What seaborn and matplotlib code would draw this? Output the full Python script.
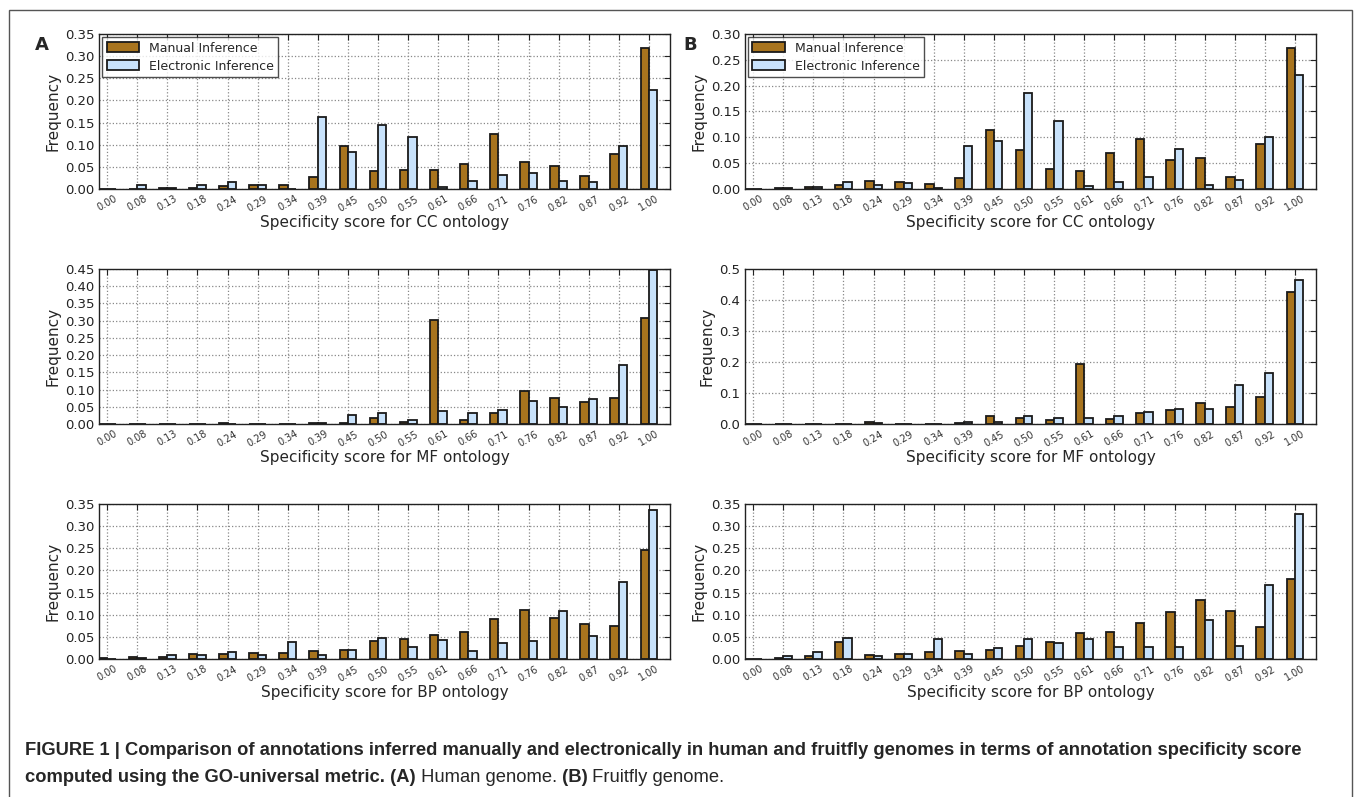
import pandas as pd
import numpy as np
import seaborn as sns
import matplotlib.pyplot as plt
from matplotlib.patches import Rectangle

# 数据: 每个面板的频率
scores = ["0.00", "0.08", "0.13", "0.18", "0.24", "0.29", "0.34", "0.39", "0.45", "0.50",
          "0.55", "0.61", "0.66", "0.71", "0.76", "0.82", "0.87", "0.92", "1.00"]
series_names = ["Manual Inference", "Electronic Inference"]

human_cc_manual = [0.0, 0.0, 0.002, 0.003, 0.006, 0.008, 0.008, 0.027, 0.096, 0.041,
                   0.043, 0.043, 0.056, 0.124, 0.060, 0.052, 0.029, 0.080, 0.319]
human_cc_elec = [0.0, 0.009, 0.003, 0.010, 0.015, 0.009, 0.001, 0.163, 0.084, 0.144,
                 0.117, 0.004, 0.017, 0.031, 0.037, 0.019, 0.015, 0.098, 0.224]
fly_cc_manual = [0.0, 0.002, 0.003, 0.007, 0.015, 0.014, 0.009, 0.021, 0.115, 0.076,
                 0.039, 0.035, 0.070, 0.097, 0.057, 0.060, 0.023, 0.088, 0.272]
fly_cc_elec = [0.0, 0.002, 0.003, 0.014, 0.007, 0.012, 0.002, 0.083, 0.093, 0.185,
               0.131, 0.005, 0.014, 0.023, 0.077, 0.007, 0.018, 0.100, 0.221]

human_mf_manual = [0.0, 0.0, 0.0, 0.0, 0.002, 0.0, 0.0, 0.002, 0.004, 0.018,
                   0.005, 0.303, 0.012, 0.031, 0.097, 0.076, 0.065, 0.076, 0.308]
human_mf_elec = [0.0, 0.0, 0.0, 0.0, 0.0, 0.0, 0.0, 0.004, 0.026, 0.031,
                 0.013, 0.039, 0.031, 0.042, 0.068, 0.050, 0.073, 0.172, 0.447]
fly_mf_manual = [0.0, 0.0, 0.0, 0.0, 0.005, 0.0, 0.0, 0.004, 0.026, 0.020,
                 0.014, 0.192, 0.017, 0.034, 0.046, 0.067, 0.055, 0.087, 0.425]
fly_mf_elec = [0.0, 0.0, 0.0, 0.0, 0.002, 0.0, 0.0, 0.005, 0.008, 0.026,
               0.020, 0.020, 0.026, 0.040, 0.049, 0.049, 0.125, 0.165, 0.466]

human_bp_manual = [0.002, 0.005, 0.005, 0.011, 0.011, 0.013, 0.013, 0.019, 0.021, 0.040,
                   0.046, 0.054, 0.062, 0.090, 0.111, 0.092, 0.078, 0.074, 0.246]
human_bp_elec = [0.0, 0.003, 0.009, 0.009, 0.015, 0.009, 0.038, 0.009, 0.021, 0.048,
                 0.027, 0.044, 0.017, 0.036, 0.040, 0.109, 0.052, 0.174, 0.337]
fly_bp_manual = [0.001, 0.003, 0.007, 0.038, 0.009, 0.011, 0.015, 0.018, 0.020, 0.030,
                 0.038, 0.058, 0.062, 0.081, 0.107, 0.134, 0.109, 0.073, 0.180]
fly_bp_elec = [0.0, 0.006, 0.016, 0.048, 0.007, 0.011, 0.046, 0.012, 0.024, 0.046,
               0.036, 0.046, 0.028, 0.026, 0.028, 0.089, 0.030, 0.168, 0.328]

panels = [
    # (manual, electronic, ontology, ymax, ystep, fmt)
    (human_cc_manual, human_cc_elec, "CC", 0.35, 0.05, "%.2f"),
    (fly_cc_manual, fly_cc_elec, "CC", 0.30, 0.05, "%.2f"),
    (human_mf_manual, human_mf_elec, "MF", 0.45, 0.05, "%.2f"),
    (fly_mf_manual, fly_mf_elec, "MF", 0.5, 0.1, "%.1f"),
    (human_bp_manual, human_bp_elec, "BP", 0.35, 0.05, "%.2f"),
    (fly_bp_manual, fly_bp_elec, "BP", 0.35, 0.05, "%.2f"),
]

brown = "#a8741e"
light_blue = "#c8e2fb"

sns.set_style("white")
plt.rcParams["font.family"] = ["DejaVu Sans"]
plt.rcParams["xtick.direction"] = "in"
plt.rcParams["ytick.direction"] = "in"
plt.rcParams["xtick.top"] = True
plt.rcParams["ytick.right"] = True

W, H = 1357, 797
fig = plt.figure(figsize=(W / 100, H / 100), dpi=100)

lefts = [99, 745]
tops = [34, 269, 504]
ax_w, ax_h = 571, 155

for i, (man, ele, onto, ymax, ystep, fmt) in enumerate(panels):
    row, col = divmod(i, 2)
    ax = fig.add_axes([lefts[col] / W, 1 - (tops[row] + ax_h) / H, ax_w / W, ax_h / H])
    df = pd.DataFrame({
        "score": scores * 2,
        "inference": [series_names[0]] * len(scores) + [series_names[1]] * len(scores),
        "frequency": man + ele,
    })
    sns.barplot(data=df, x="score", y="frequency", hue="inference",
                palette=[brown, light_blue], saturation=1, width=0.56, errorbar=None,
                edgecolor="#1a1a1a", linewidth=1.3, ax=ax, legend=(row == 0))
    ax.set_xlim(-0.27, 18.7)
    ax.set_ylim(0, ymax)
    ax.set_yticks(np.round(np.arange(0, ymax + 1e-9, ystep), 2))
    ax.yaxis.set_major_formatter(plt.FormatStrFormatter(fmt))
    ax.set_axisbelow(True)
    ax.grid(True, linestyle=":", color="#888888", linewidth=0.9)
    ax.tick_params(axis="x", labelsize=7, rotation=30, length=4, color="#222222",
                   labelcolor="#333333")
    ax.tick_params(axis="y", labelsize=9.5, length=4, color="#222222", labelcolor="#222222")
    for lab in ax.get_xticklabels():
        lab.set_ha("center")
    ax.set_xlabel("Specificity score for %s ontology" % onto, fontsize=11, labelpad=1)
    ax.set_ylabel("Frequency", fontsize=11, labelpad=3)
    for sp in ax.spines.values():
        sp.set_color("#222222")
        sp.set_linewidth(1.0)
    if row == 0:
        sns.move_legend(ax, "upper left", title=None, fontsize=9, frameon=True,
                        fancybox=False, edgecolor="#222222", borderaxespad=0.25,
                        handlelength=2.6, handleheight=0.9, labelspacing=0.4,
                        borderpad=0.35)
        ax.get_legend().get_frame().set_linewidth(1.0)

# 面板字母
fig.text(42 / W, 1 - 45 / H, "A", fontsize=13, fontweight="bold", ha="center", va="center")
fig.text(690 / W, 1 - 45 / H, "B", fontsize=13, fontweight="bold", ha="center", va="center")

# 外框
fig.patches.append(Rectangle((9 / W, -0.05), (1352 - 9) / W, 1.05 - 10 / H,
                             transform=fig.transFigure, fill=False,
                             edgecolor="#555555", linewidth=1.0))

# 图注
cap = dict(family=["Liberation Sans", "DejaVu Sans"], fontsize=13.2)
fig.text(25 / W, 1 - 755 / H,
         "FIGURE 1 | Comparison of annotations inferred manually and electronically in human "
         "and fruitfly genomes in terms of annotation specificity score",
         fontweight="bold", va="baseline", **cap)
prev = fig.text(25 / W, 1 - 782 / H, "computed using the GO-universal metric.",
                fontweight="bold", va="baseline", **cap)
for txt, wt in [(" (A)", "bold"), (" Human genome.", "normal"),
                (" (B)", "bold"), (" Fruitfly genome.", "normal")]:
    prev = fig.axes[0].annotate(txt, xy=(1, 0), xycoords=prev, va="bottom", ha="left",
                                fontweight=wt, annotation_clip=False, **cap)

fig.savefig("out.png", dpi=100)
